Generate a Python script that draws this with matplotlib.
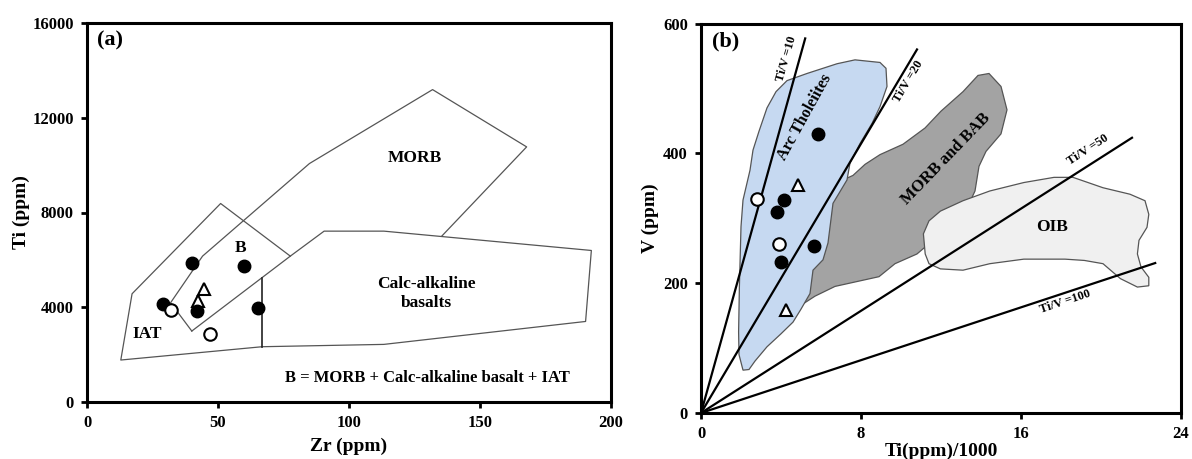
import matplotlib
matplotlib.use('Agg')
import matplotlib.pyplot as plt
from matplotlib.patches import Polygon

plt.rcParams['font.family'] = ['Liberation Serif', 'DejaVu Serif']
plt.rcParams['font.weight'] = 'bold'
plt.rcParams['axes.labelweight'] = 'bold'

# ---------------- Panel (a) data: Ti vs Zr ----------------
a_filled_zr = [40.0, 59.8, 28.9, 41.8, 65.2]
a_filled_ti = [5850, 5730, 4150, 3840, 3960]
a_open_zr = [31.9, 46.9]
a_open_ti = [3880, 2850]
a_tri_zr = [44.5, 42.3]
a_tri_ti = [4780, 4260]

# field boundaries (Zr, Ti)
iat_outer_zr = [66.9, 12.9, 17.2, 51.0, 77.6]
iat_outer_ti = [2334, 1772, 4569, 8380, 6158]
morb_zr = [40.0, 31.9, 44.1, 84.9, 131.9, 167.8, 135.4]
morb_ti = [2995, 4190, 6158, 10067, 13188, 10770, 7002]
cab_zr = [40.0, 77.6, 90.5, 113.3, 192.5, 190.3, 113.3, 66.9]
cab_ti = [2995, 6158, 7213, 7213, 6397, 3400, 2432, 2334]
div_zr = [66.9, 66.9]
div_ti = [5245, 2334]

# ---------------- Panel (b) data: V vs Ti/1000 ----------------
b_filled_ti = [5.85, 4.15, 3.79, 5.66, 3.98]
b_filled_v = [430, 328, 309, 258, 233]
b_open_ti = [2.80, 3.90]
b_open_v = [330, 260]
b_tri_ti = [4.83, 4.24]
b_tri_v = [351, 159]

arc_x = [3.75, 4.3, 5.3, 6.8, 7.7, 8.95, 9.25, 9.3, 8.95, 8.55, 7.95, 7.45, 7.3, 6.6,
         6.35, 6.1, 5.6, 5.45, 5.0, 4.6, 4.0, 3.3, 2.7, 2.4, 2.1, 1.9, 1.88, 1.92,
         2.0, 2.1, 2.45, 2.6, 2.9, 3.3]
arc_y = [495, 512, 523, 538, 544, 540, 531, 503, 472, 446, 415, 385, 359, 323,
         262, 236, 220, 184, 160, 140, 122, 102, 80, 67, 66, 90, 125, 195,
         287, 328, 374, 405, 434, 470]

morb_x = [4.7, 5.2, 5.8, 6.6, 7.6, 8.2, 8.95, 10.1, 11.2, 12.0, 13.1, 13.85, 14.4,
          15.0, 15.3, 15.0, 14.25, 13.9, 13.7, 13.4, 12.7, 11.6, 10.8, 9.7, 8.9,
          6.7, 5.7]
morb_y = [160, 220, 300, 352, 366, 383, 398, 414, 439, 465, 495, 520, 523,
          503, 467, 430, 403, 380, 342, 322, 296, 266, 245, 230, 210, 195, 180]

oib_x = [11.12, 11.21, 11.4, 11.97, 13.1, 14.44, 16.14, 18.2, 19.17, 20.1, 20.97,
         21.82, 22.39, 22.39, 22.0, 21.82, 21.9, 22.3, 22.39, 22.2, 21.45, 20.1,
         18.6, 17.65, 16.14, 14.44, 13.1, 11.97, 11.4]
oib_y = [276, 245, 230, 222, 220, 230, 237, 237, 235, 230, 207,
         194, 196, 209, 225, 245, 266, 286, 306, 327, 337, 347,
         363, 363, 355, 342, 327, 311, 296]

tiv_labels = ['Ti/V =10', 'Ti/V =20', 'Ti/V =50', 'Ti/V =100']
tiv_end_x = [5.21, 10.8, 21.55, 22.71]
tiv_end_v = [577, 560, 424, 231]
tiv_lab_x = [4.28, 10.37, 19.35, 18.2]
tiv_lab_v = [546, 510, 406, 171]
tiv_rot = [74, 59, 33, 18.5]

fig = plt.figure(figsize=(11.92, 4.59), dpi=100)
axa = fig.add_axes([87/1192, 1-402/459, (611-87)/1192, (402-23)/459])
axb = fig.add_axes([701/1192, 1-413/459, (1181-701)/1192, (413-23.5)/459])

edge = '#555555'
for xs, ys in [(iat_outer_zr, iat_outer_ti), (morb_zr, morb_ti), (cab_zr, cab_ti)]:
    axa.plot(xs, ys, color=edge, lw=0.9)
axa.plot(div_zr, div_ti, color='#222222', lw=1.2)

ms = 9
axa.plot(a_tri_zr, a_tri_ti, ls='none', marker='^', ms=ms, mfc='white', mec='black', mew=1.5, zorder=3)
axa.plot(a_filled_zr, a_filled_ti, ls='none', marker='o', ms=ms, mfc='black', mec='black', zorder=4)
axa.plot(a_open_zr, a_open_ti, ls='none', marker='o', ms=ms, mfc='white', mec='black', mew=1.5, zorder=5)

axa.set_xlim(0, 200)
axa.set_ylim(0, 16000)
axa.set_xticks([0, 50, 100, 150, 200])
axa.set_yticks([0, 4000, 8000, 12000, 16000])
axa.set_xlabel('Zr (ppm)', fontsize=14, labelpad=5)
axa.set_ylabel('Ti (ppm)', fontsize=14, labelpad=2)
axa.text(3.8, 15250, '(a)', fontsize=16, va='center', ha='left')
tk = dict(fontsize=12.5, ha='center', va='center')
axa.text(125.2, 10300, 'MORB', **tk)
axa.text(58.5, 6500, 'B', **tk)
axa.text(129.7, 4570, 'Calc-alkaline\nbasalts', linespacing=1.25, **tk)
axa.text(22.8, 2850, 'IAT', **tk)
axa.text(130, 1000, 'B = MORB + Calc-alkaline basalt + IAT', fontsize=12, ha='center', va='center')

# Panel (b)
axb.add_patch(Polygon(list(zip(morb_x, morb_y)), closed=True, fc='#a3a3a3', ec='#555555', lw=0.9, zorder=1))
axb.add_patch(Polygon(list(zip(arc_x, arc_y)), closed=True, fc='#c6d9f1', ec='#555555', lw=0.9, zorder=1.2))
axb.add_patch(Polygon(list(zip(oib_x, oib_y)), closed=True, fc='#f0f0f0', ec='#555555', lw=0.9, zorder=1.1))

for ex, ev, lx, lv, lab, r in zip(tiv_end_x, tiv_end_v, tiv_lab_x, tiv_lab_v, tiv_labels, tiv_rot):
    axb.plot([0, ex], [0, ev], color='black', lw=1.6, zorder=2)
    axb.text(lx, lv, lab, rotation=r, fontsize=9, ha='center', va='center', zorder=3)

axb.plot(b_tri_ti, b_tri_v, ls='none', marker='^', ms=ms, mfc='white', mec='black', mew=1.5, zorder=4)
axb.plot(b_filled_ti, b_filled_v, ls='none', marker='o', ms=ms, mfc='black', mec='black', zorder=4)
axb.plot(b_open_ti, b_open_v, ls='none', marker='o', ms=ms, mfc='white', mec='black', mew=1.5, zorder=5)

axb.text(5.2, 456, 'Arc Tholeiites', rotation=61, fontsize=11.5, ha='center', va='center', zorder=3)
axb.text(12.26, 391, 'MORB and BAB', rotation=46, fontsize=12, ha='center', va='center', zorder=3)
axb.text(17.56, 286, 'OIB', fontsize=12.5, ha='center', va='center', zorder=3)
axb.text(0.53, 573, '(b)', fontsize=16, va='center', ha='left')

axb.set_xlim(0, 24)
axb.set_ylim(0, 600)
axb.set_xticks([0, 8, 16, 24])
axb.set_yticks([0, 200, 400, 600])
axb.set_xlabel('Ti(ppm)/1000', fontsize=14, labelpad=0)
axb.set_ylabel('V (ppm)', fontsize=14, labelpad=3)

for ax in (axa, axb):
    for s in ax.spines.values():
        s.set_linewidth(2.2)
    ax.tick_params(direction='out', length=4.5, width=2, labelsize=12, pad=5)
    for lab in ax.get_xticklabels() + ax.get_yticklabels():
        lab.set_fontweight('bold')

fig.savefig('out.png', dpi=100)
